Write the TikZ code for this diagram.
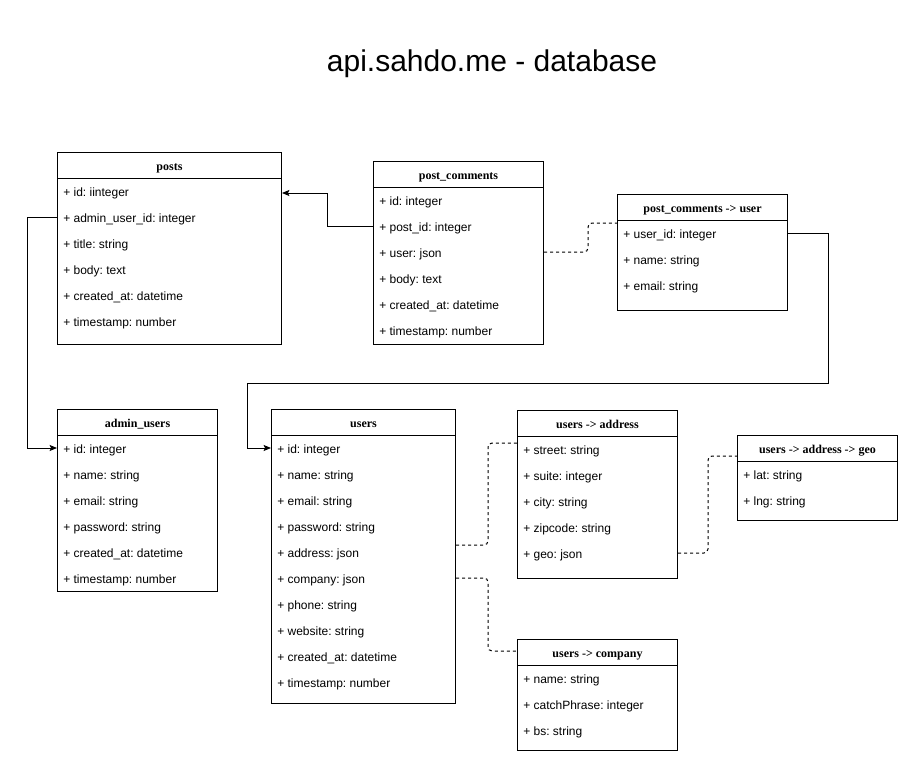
\documentclass[tikz,border=0pt]{standalone}
\usepackage{fontspec}
\setmainfont{Liberation Sans}
\newfontfamily\hdrfont{Liberation Serif}
\usetikzlibrary{arrows.meta,calc}
\frenchspacing
\tikzset{
  tblbox/.style={draw, line width=0.75pt, fill=white, anchor=north west, inner sep=0pt},
  hdr/.style={font=\hdrfont\bfseries\fontsize{9pt}{11pt}\selectfont, inner sep=0pt, text height=10pt, text depth=1.8pt},
  row/.style={font=\fontsize{9pt}{11pt}\selectfont, anchor=west, inner sep=0pt, text height=9pt, text depth=1.5pt},
  arr/.style={draw, line width=0.75pt, -{Stealth[length=5.5pt,width=4.5pt,inset=1pt]}},
  dsh/.style={draw, line width=0.75pt, dash pattern=on 2.25pt off 2.25pt, rounded corners=3pt},
  titletext/.style={font=\fontsize{22.5pt}{27pt}\selectfont, inner sep=0pt, anchor=base}
}
\newcommand\dbtable[6]{%
  \node[tblbox, minimum width=#4, minimum height=#5] (#1) at (#2,#3) {};
  \draw[line width=0.75pt] (#1.north west) ++(0,26) coordinate (#1-hl) -- (#1-hl -| #1.east);
  \path (#1.north) ++(0,13) node[hdr] (#1-title) {#6};
}
\begin{document}
\begin{tikzpicture}[x=0.75pt,y=-0.75pt]
\useasboundingbox[fill=white] (0,0) rectangle (918,771);

\node[titletext] (title) at (492,71) {api.sahdo.me - database};

% posts
\dbtable{posts}{57}{152}{168pt}{144pt}{posts}
\node[row] (posts-r1) at (63,191) {+ id: iinteger};
\node[row] (posts-r2) at (63,217) {+ admin\_user\_id: integer};
\node[row] (posts-r3) at (63,243) {+ title: string};
\node[row] (posts-r4) at (63,269) {+ body: text};
\node[row] (posts-r5) at (63,295) {+ created\_at: datetime};
\node[row] (posts-r6) at (63,321) {+ timestamp: number};

% post_comments
\dbtable{pc}{373}{161}{127.5pt}{137.25pt}{post\_comments}
\node[row] (pc-r1) at (379,200) {+ id: integer};
\node[row] (pc-r2) at (379,226) {+ post\_id: integer};
\node[row] (pc-r3) at (379,252) {+ user: json};
\node[row] (pc-r4) at (379,278) {+ body: text};
\node[row] (pc-r5) at (379,304) {+ created\_at: datetime};
\node[row] (pc-r6) at (379,330) {+ timestamp: number};

% post_comments -> user
\dbtable{pcuser}{617}{194}{127.5pt}{87pt}{post\_comments -> user}
\node[row] (pcuser-r1) at (623,233) {+ user\_id: integer};
\node[row] (pcuser-r2) at (623,259) {+ name: string};
\node[row] (pcuser-r3) at (623,285) {+ email: string};

% admin_users
\dbtable{admin}{57}{409}{120pt}{136.5pt}{admin\_users}
\node[row] (admin-r1) at (63,448) {+ id: integer};
\node[row] (admin-r2) at (63,474) {+ name: string};
\node[row] (admin-r3) at (63,500) {+ email: string};
\node[row] (admin-r4) at (63,526) {+ password: string};
\node[row] (admin-r5) at (63,552) {+ created\_at: datetime};
\node[row] (admin-r6) at (63,578) {+ timestamp: number};

% users
\dbtable{users}{271}{409}{138pt}{220.5pt}{users}
\node[row] (users-r1) at (277,448) {+ id: integer};
\node[row] (users-r2) at (277,474) {+ name: string};
\node[row] (users-r3) at (277,500) {+ email: string};
\node[row] (users-r4) at (277,526) {+ password: string};
\node[row] (users-r5) at (277,552) {+ address: json};
\node[row] (users-r6) at (277,578) {+ company: json};
\node[row] (users-r7) at (277,604) {+ phone: string};
\node[row] (users-r8) at (277,630) {+ website: string};
\node[row] (users-r9) at (277,656) {+ created\_at: datetime};
\node[row] (users-r10) at (277,682) {+ timestamp: number};

% users -> address
\dbtable{address}{517}{410}{120pt}{126pt}{users -> address}
\node[row] (address-r1) at (523,449) {+ street: string};
\node[row] (address-r2) at (523,475) {+ suite: integer};
\node[row] (address-r3) at (523,501) {+ city: string};
\node[row] (address-r4) at (523,527) {+ zipcode: string};
\node[row] (address-r5) at (523,553) {+ geo: json};

% users -> address -> geo
\dbtable{geo}{737}{435}{120pt}{63.75pt}{users -> address -> geo}
\node[row] (geo-r1) at (743,474) {+ lat: string};
\node[row] (geo-r2) at (743,500) {+ lng: string};

% users -> company
\dbtable{company}{517}{639}{120pt}{83.25pt}{users -> company}
\node[row] (company-r1) at (523,678) {+ name: string};
\node[row] (company-r2) at (523,704) {+ catchPhrase: integer};
\node[row] (company-r3) at (523,730) {+ bs: string};

% connectors
\draw[arr] (pc.west |- pc-r2) -- ++(-46,0) |- ($(posts.north east)+(0,41)$);
\draw[arr] (posts.west |- posts-r2) -- ++(-30,0) |- (admin.west |- admin-r1);
\draw[dsh] (pc.east |- pc-r3) -- ++(44,0) |- ($(pcuser.north west)+(0,29)$);
\coordinate (bend) at (247,383);
\draw[arr] (pcuser.east |- pcuser-r1) -- ++(40,0) |- (bend) |- (users.west |- users-r1);
\draw[dsh] ($(users.north east)+(0,136)$) -- ++(32,0) |- ($(address.north west)+(0,33)$);
\draw[dsh] (users.east |- users-r6) -- ++(32,0) |- ($(company.north west)+(0,12)$);
\draw[dsh] (address.east |- address-r5) -- ++(30,0) |- ($(geo.north west)+(0,21)$);
\end{tikzpicture}
\end{document}
